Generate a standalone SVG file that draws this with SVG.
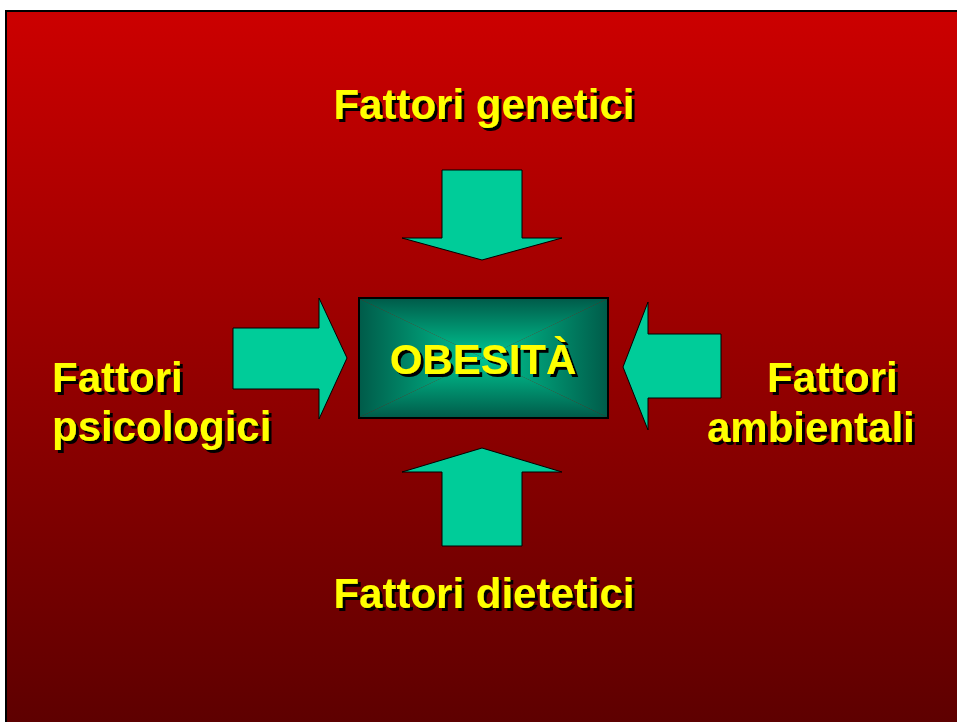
<svg xmlns="http://www.w3.org/2000/svg" width="957" height="722" viewBox="0 0 957 722">
  <defs>
    <linearGradient id="bg" x1="0" y1="12" x2="0" y2="722" gradientUnits="userSpaceOnUse">
      <stop offset="0" stop-color="#CC0000"/>
      <stop offset="1" stop-color="#5E0000"/>
    </linearGradient>
    <linearGradient id="gT" x1="0" y1="299" x2="0" y2="358" gradientUnits="userSpaceOnUse">
      <stop offset="0" stop-color="#005C4A"/>
      <stop offset="1" stop-color="#00C894"/>
    </linearGradient>
    <linearGradient id="gB" x1="0" y1="417" x2="0" y2="358" gradientUnits="userSpaceOnUse">
      <stop offset="0" stop-color="#005C4A"/>
      <stop offset="1" stop-color="#00C894"/>
    </linearGradient>
    <linearGradient id="gL" x1="360" y1="0" x2="483.5" y2="0" gradientUnits="userSpaceOnUse">
      <stop offset="0" stop-color="#005C4A"/>
      <stop offset="1" stop-color="#00C894"/>
    </linearGradient>
    <linearGradient id="gR" x1="607" y1="0" x2="483.5" y2="0" gradientUnits="userSpaceOnUse">
      <stop offset="0" stop-color="#005C4A"/>
      <stop offset="1" stop-color="#00C894"/>
    </linearGradient>
    <filter id="sh" x="-10%" y="-10%" width="120%" height="130%">
      <feDropShadow dx="3" dy="3" stdDeviation="0" flood-color="#000000" flood-opacity="1"/>
    </filter>
  </defs>
  <style>
    .lbl { font-family: "Liberation Sans", Arial, sans-serif; font-weight: bold; font-size: 42px; fill: #FFFF00; filter: url(#sh); }
    .arrow { fill: #00CC99; stroke: #000000; stroke-width: 1; stroke-linejoin: miter; }
  </style>
  <rect x="0" y="0" width="957" height="722" fill="#FFFFFF"/>
  <rect x="6" y="11" width="1000" height="800" fill="url(#bg)" stroke="#000000" stroke-width="2"/>

  <g id="connectors">
    <polygon class="arrow" points="442,170 522,170 522,238 562,238 482,260 402,238 442,238"/>
    <polygon class="arrow" points="442,546 522,546 522,472 562,472 482,448 402,472 442,472"/>
    <polygon class="arrow" points="233,328 319,328 319,298 347,358 319,419 319,389 233,389"/>
    <polygon class="arrow" points="721,334 648,334 648,302 623,367 648,430 648,398 721,398"/>
  </g>

  <g id="obesita">
    <polygon points="360,299 607,299 483.5,358" fill="url(#gT)"/>
    <polygon points="360,417 607,417 483.5,358" fill="url(#gB)"/>
    <polygon points="360,299 360,417 483.5,358" fill="url(#gL)"/>
    <polygon points="607,299 607,417 483.5,358" fill="url(#gR)"/>
    <rect x="359" y="298" width="249" height="120" fill="none" stroke="#000000" stroke-width="2"/>
    <text class="lbl" x="483" y="374" text-anchor="middle">OBESITÀ</text>
  </g>

  <g id="genetici">
    <text class="lbl" x="484" y="119" text-anchor="middle">Fattori genetici</text>
  </g>
  <g id="dietetici">
    <text class="lbl" x="484" y="608" text-anchor="middle">Fattori dietetici</text>
  </g>
  <g id="psicologici">
    <text class="lbl" x="52" y="392">Fattori</text>
    <text class="lbl" x="52" y="441">psicologici</text>
  </g>
  <g id="ambientali">
    <text class="lbl" x="767" y="392">Fattori</text>
    <text class="lbl" x="707" y="442">ambientali</text>
  </g>
</svg>
